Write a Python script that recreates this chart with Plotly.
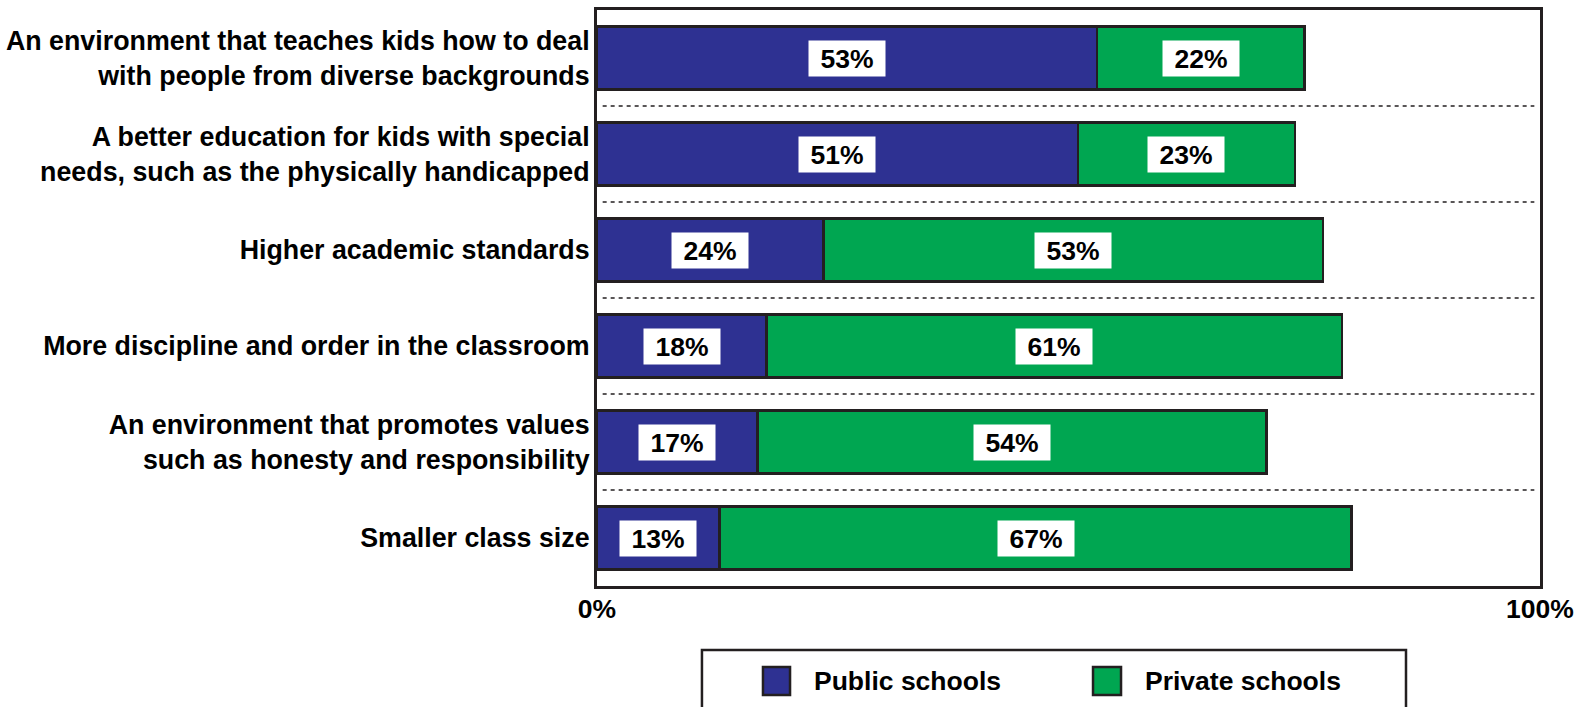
import plotly.graph_objects as go

categories = [
    "An environment that teaches kids how to deal<br>with people from diverse backgrounds",
    "A better education for kids with special<br>needs, such as the physically handicapped",
    "Higher academic standards",
    "More discipline and order in the classroom",
    "An environment that promotes values<br>such as honesty and responsibility",
    "Smaller class size",
]
public_vals = [53, 51, 24, 18, 17, 13]
private_vals = [22, 23, 53, 61, 54, 67]
series_names = ["Public schools", "Private schools"]
x_tick_vals = [0, 100]
x_tick_text = ["0%", "100%"]

PUB_COLOR = "#2E3192"
PRI_COLOR = "#00A651"
EDGE = "#231F20"
FONT = "Liberation Sans, Arial, Helvetica, sans-serif"
FS = 26.5

fig = go.Figure()
fig.add_trace(go.Bar(
    y=categories, x=public_vals, orientation="h", name=series_names[0],
    marker=dict(color=PUB_COLOR, line=dict(color=EDGE, width=2.5)),
    showlegend=False, hoverinfo="x+y",
))
fig.add_trace(go.Bar(
    y=categories, x=private_vals, orientation="h", name=series_names[1],
    marker=dict(color=PRI_COLOR, line=dict(color=EDGE, width=2.5)),
    showlegend=False, hoverinfo="x+y",
))

annotations = []
for cat, pub, pri in zip(categories, public_vals, private_vals):
    for xc, v in ((pub / 2, pub), (pub + pri / 2, pri)):
        annotations.append(dict(
            x=xc, y=cat, xref="x", yref="y", text=f"<b>{v}%</b>",
            showarrow=False, bgcolor="white", width=76, height=35, borderpad=0,
            font=dict(family=FONT, size=FS, color="black"),
        ))

shapes = []
# dotted separators between categories
for i in range(len(categories) - 1):
    shapes.append(dict(
        type="line", xref="x", yref="y", x0=0.6, x1=99.4, y0=i + 0.5, y1=i + 0.5,
        line=dict(color=EDGE, width=1.3, dash="4px,4px"), layer="below",
    ))

# manual legend (box + swatches + labels)
shapes.append(dict(type="rect", xref="paper", yref="paper",
                   x0=0.1113, x1=0.8579, y0=-0.111, y1=-0.26,
                   line=dict(color=EDGE, width=2.5), fillcolor="white"))
legend_items = [
    (series_names[0], PUB_COLOR, 0.176, 0.2047, 0.228),
    (series_names[1], PRI_COLOR, 0.526, 0.5557, 0.579),
]
for name, col, sx0, sx1, tx in legend_items:
    shapes.append(dict(type="rect", xref="paper", yref="paper",
                       x0=sx0, x1=sx1, y0=-0.1406, y1=-0.1892,
                       line=dict(color=EDGE, width=2.5), fillcolor=col))
    annotations.append(dict(
        x=tx, y=-0.165, xref="paper", yref="paper", text=f"<b>{name}</b>",
        showarrow=False, xanchor="left", yanchor="middle",
        font=dict(family=FONT, size=FS, color="black"),
    ))

fig.update_layout(
    template="none",
    barmode="stack",
    bargap=0.344,
    width=1577, height=707,
    autosize=False,
    margin=dict(l=597, r=37, t=10, b=121, pad=0, autoexpand=False),
    paper_bgcolor="white", plot_bgcolor="white",
    font=dict(family=FONT, size=FS, color="black"),
    showlegend=False,
    annotations=annotations,
    shapes=shapes,
)
fig.update_xaxes(
    range=[0, 100], tickvals=x_tick_vals, ticktext=[f"<b>{t}</b>" for t in x_tick_text],
    showgrid=False, zeroline=False, showline=True, linecolor=EDGE, linewidth=3,
    mirror=True, ticks="", ticklen=0, ticklabelstandoff=-3, automargin=False,
    tickfont=dict(family=FONT, size=FS, color="black"),
)
fig.update_yaxes(
    categoryorder="array", categoryarray=categories, autorange="reversed",
    tickvals=categories, ticktext=[f"<b>{c}</b>" for c in categories],
    showgrid=False, zeroline=False, showline=True, linecolor=EDGE, linewidth=3,
    mirror=True, ticks="", ticklen=0, ticklabelstandoff=-1, automargin=False,
    tickfont=dict(family=FONT, size=26.8, color="black"),
)

fig.write_html(
    "out.html",
    config={"displayModeBar": False},
    post_script="document.body.style.margin='0';document.body.style.overflow='hidden';",
)
